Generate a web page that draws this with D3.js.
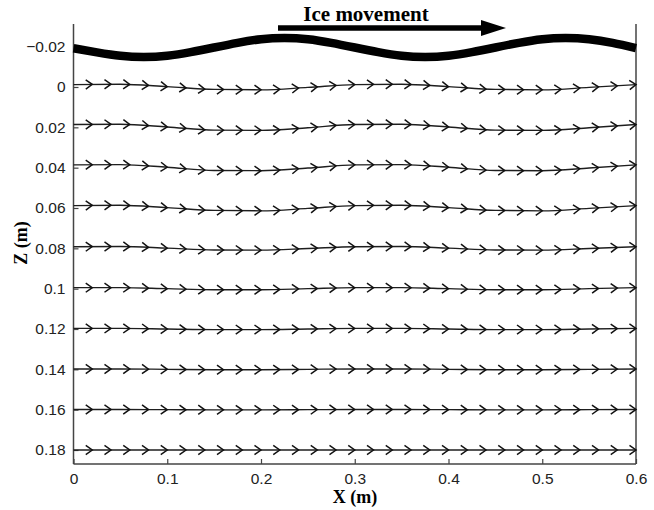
<!DOCTYPE html>
<html><head><meta charset="utf-8">
<script src="https://cdn.jsdelivr.net/npm/d3@7"></script>
<style>body{margin:0;background:#fff}</style>
</head><body><svg id="c" width="654" height="510"></svg>
<script>
// ---- data ----
const xTicks = [0, 0.1, 0.2, 0.3, 0.4, 0.5, 0.6];
const zTicks = [-0.02, 0, 0.02, 0.04, 0.06, 0.08, 0.1, 0.12, 0.14, 0.16, 0.18];

const surfaceX = [0,0.025,0.05,0.075,0.1,0.125,0.15,0.175,0.2,0.225,0.25,0.275,0.3,0.325,0.35,0.375,0.4,0.425,0.45,0.475,0.5,0.525,0.55,0.575,0.6];
const surfaceZ = [-0.0192,-0.0172,-0.0155,-0.0149,-0.0155,-0.0173,-0.0196,-0.0219,-0.0237,-0.0243,-0.0237,-0.0219,-0.0196,-0.0173,-0.0155,-0.0149,-0.0155,-0.0173,-0.0196,-0.0219,-0.0237,-0.0243,-0.0237,-0.0219,-0.0193];

const streamX = [0,0.05,0.1,0.15,0.2,0.25,0.3,0.35,0.4,0.45,0.5,0.55,0.6];
const stream00 = [-0.0012,-0.0014,-0.0002,0.0012,0.0014,0.0002,-0.0012,-0.0014,-0.0002,0.0012,0.0014,0.0002,-0.0012];
const stream02 = [0.0186,0.0185,0.0198,0.0214,0.0215,0.0202,0.0186,0.0185,0.0198,0.0214,0.0215,0.0202,0.0186];
const stream04 = [0.0386,0.0385,0.0398,0.0414,0.0415,0.0402,0.0386,0.0385,0.0398,0.0414,0.0415,0.0402,0.0386];
const stream06 = [0.0588,0.0586,0.0598,0.0612,0.0614,0.0602,0.0588,0.0586,0.0598,0.0612,0.0614,0.0602,0.0588];
const stream08 = [0.0792,0.0791,0.0799,0.0808,0.0809,0.0801,0.0792,0.0791,0.0799,0.0808,0.0809,0.0801,0.0792];
const stream10 = [0.0995,0.0995,0.1,0.1005,0.1005,0.1,0.0995,0.0995,0.1,0.1005,0.1005,0.1,0.0995];
const stream12 = [0.1197,0.1197,0.12,0.1203,0.1203,0.12,0.1197,0.1197,0.12,0.1203,0.1203,0.12,0.1197];
const stream14 = [0.1398,0.1398,0.14,0.1402,0.1402,0.14,0.1398,0.1398,0.14,0.1402,0.1402,0.14,0.1398];
const stream16 = [0.1599,0.1599,0.16,0.1601,0.1601,0.16,0.1599,0.1599,0.16,0.1601,0.1601,0.16,0.1599];
const stream18 = [0.18,0.18,0.18,0.18,0.18,0.18,0.18,0.18,0.18,0.18,0.18,0.18,0.18];
const streamRows = [stream00, stream02, stream04, stream06, stream08, stream10, stream12, stream14, stream16, stream18];

const arrowX = [0.02,0.04,0.06,0.08,0.1,0.12,0.14,0.16,0.18,0.2,0.22,0.24,0.26,0.28,0.3,0.32,0.34,0.36,0.38,0.4,0.42,0.44,0.46,0.48,0.5,0.52,0.54,0.56,0.58,0.6];

const titleText = "Ice movement";
const xLabel = "X (m)";
const zLabel = "Z (m)";

// ---- layout ----
const L = 73.5, R = 636, T = 24, B = 464;
const svg = d3.select("#c");
const x = d3.scaleLinear().domain([0, 0.6]).range([L, R]);
const z = d3.scaleLinear().domain([-0.03124, 0.18694]).range([T, B]);
const fmt = d3.format("~g");
const axisCol = "#444";
const tickFont = "'Liberation Sans', Arial, sans-serif";
const serif = "'Liberation Serif', 'Times New Roman', serif";

// axes
const gx = svg.append("g").attr("transform", `translate(0,${B})`)
  .call(d3.axisBottom(x).tickValues(xTicks).tickFormat(fmt).tickSizeInner(-5).tickSizeOuter(0).tickPadding(9));
const gz = svg.append("g").attr("transform", `translate(${L},0)`)
  .call(d3.axisLeft(z).tickValues(zTicks).tickFormat(fmt).tickSizeInner(-5).tickSizeOuter(0).tickPadding(8));
[gx, gz].forEach(g => {
  g.select(".domain").remove();
  g.selectAll(".tick line").attr("stroke", axisCol).attr("stroke-width", 1.2);
  g.selectAll(".tick text").attr("fill", "#222").style("font-family", tickFont).style("font-size", "15.5px");
});
// frame lines (left, bottom, right)
const frame = svg.append("g").attr("stroke", axisCol).attr("stroke-width", 1.5).attr("fill", "none");
frame.append("line").attr("x1", L).attr("x2", L).attr("y1", T).attr("y2", B);
frame.append("line").attr("x1", L).attr("x2", R).attr("y1", B).attr("y2", B);
frame.append("line").attr("x1", R).attr("x2", R).attr("y1", T).attr("y2", B);

// streamlines
const sline = d3.line().x(d => x(d[0])).y(d => z(d[1])).curve(d3.curveMonotoneX);
function pointAtX(node, px) {
  const total = node.getTotalLength();
  let lo = 0, hi = total;
  for (let i = 0; i < 40; i++) {
    const mid = (lo + hi) / 2;
    if (node.getPointAtLength(mid).x < px) lo = mid; else hi = mid;
  }
  return { len: (lo + hi) / 2, p: node.getPointAtLength((lo + hi) / 2) };
}
const sg = svg.append("g");
streamRows.forEach(row => {
  const pts = streamX.map((sx, i) => [sx, row[i]]);
  const path = sg.append("path").attr("d", sline(pts))
    .attr("fill", "none").attr("stroke", "#1e1e1e").attr("stroke-width", 1.4);
  const node = path.node();
  arrowX.forEach(ax => {
    const r = pointAtX(node, x(ax));
    const q = node.getPointAtLength(Math.max(0, r.len - 4));
    const ang = Math.atan2(r.p.y - q.y, r.p.x - q.x) * 180 / Math.PI;
    sg.append("path")
      .attr("d", "M-6.5,-4.6L0,0L-6.5,4.6")
      .attr("transform", `translate(${r.p.x},${r.p.y}) rotate(${ang})`)
      .attr("fill", "none").attr("stroke", "#111").attr("stroke-width", 1.5)
      .attr("stroke-linejoin", "miter");
  });
});

// ice surface
const surf = d3.line().x(d => x(d[0])).y(d => z(d[1])).curve(d3.curveNatural);
svg.append("path").attr("d", surf(surfaceX.map((sx, i) => [sx, surfaceZ[i]])))
  .attr("fill", "none").attr("stroke", "#000").attr("stroke-width", 8.5);

// ice movement arrow + title
svg.append("line").attr("x1", 278).attr("x2", 483).attr("y1", 28).attr("y2", 28)
  .attr("stroke", "#000").attr("stroke-width", 5.5);
svg.append("path").attr("d", "M481,20L506,28L481,36Z").attr("fill", "#000");
svg.append("text").attr("x", 366).attr("y", 21).attr("text-anchor", "middle")
  .style("font-family", serif).style("font-weight", "bold").style("font-size", "21px")
  .attr("fill", "#000").text(titleText);

// axis titles
svg.append("text").attr("x", 355).attr("y", 503).attr("text-anchor", "middle")
  .style("font-family", serif).style("font-weight", "bold").style("font-size", "18px")
  .attr("fill", "#000").text(xLabel);
svg.append("text").attr("transform", "translate(27,243) rotate(-90)").attr("text-anchor", "middle")
  .style("font-family", serif).style("font-weight", "bold").style("font-size", "18px")
  .attr("fill", "#000").text(zLabel);
</script>
</body></html>
